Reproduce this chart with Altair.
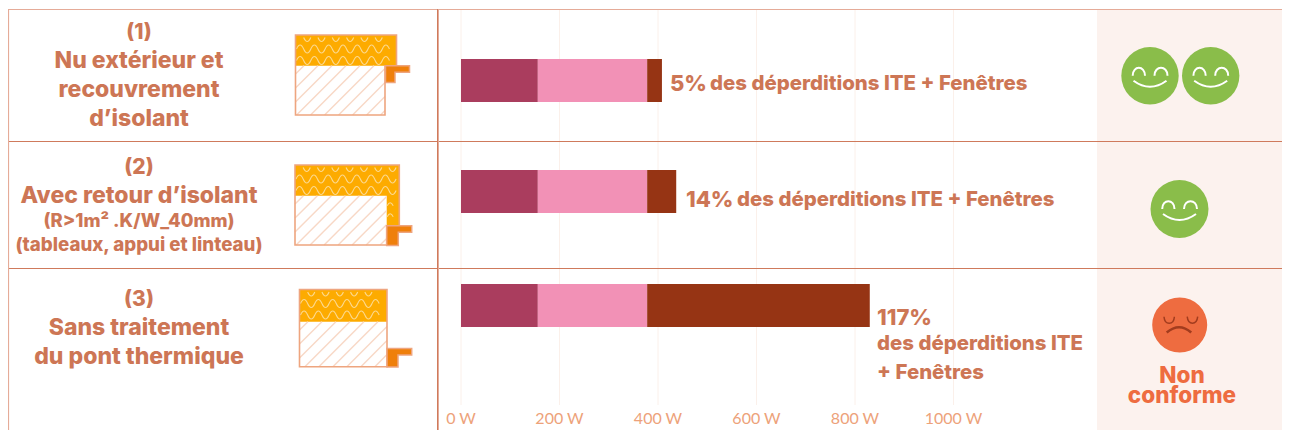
import altair as alt
import pandas as pd

# ---- data ----
rows = ["(1)", "(2)", "(3)"]
segments = ["Segment A", "Segment B", "Ponts thermiques"]
seg_a = [156, 156, 156]
seg_b = [222, 222, 222]
seg_c = [30, 59, 452]
tick_values = [0, 200, 400, 600, 800, 1000]

# ---- layout (page pixels) ----
W, H = 1274, 422
PX = lambda v: v - 8
X0, PX_PER_W = PX(461), 0.4925
bar_y = {"(1)": (59, 102), "(2)": (170, 213), "(3)": (284, 327)}
SEG_COL = ["#aa3d5e", "#f291b6", "#963414"]
TXT = "#cd7655"
FONT = "Inter"

x_scale = alt.Scale(domain=[-X0 / PX_PER_W, (W - X0) / PX_PER_W], range=[0, W], nice=False, zero=False)
layers = []


def vrule(x, y1, y2, col, sw=1.0):
    return alt.Chart().mark_rule(color=col, strokeWidth=sw).encode(
        x=alt.value(PX(x)), y=alt.value(PX(y1)), y2=alt.value(PX(y2)))


def hrule(y, x1, x2, col, sw=1.0):
    return alt.Chart().mark_rule(color=col, strokeWidth=sw).encode(
        y=alt.value(PX(y)), x=alt.value(PX(x1)), x2=alt.value(PX(x2)))


def path(d, fill=None, stroke=None, sw=1.0):
    kw = dict(shape=d, size=4, opacity=1, strokeWidth=sw)
    if fill:
        kw.update(filled=True, fill=fill)
    else:
        kw.update(filled=False, fill="transparent")
    kw["stroke"] = stroke if stroke else "transparent"
    return alt.Chart().mark_point(**kw).encode(x=alt.value(0), y=alt.value(0))


def poly(pts):
    return "M" + " L".join(f"{PX(x):.2f} {PX(y):.2f}" for x, y in pts) + " Z"


def text(s, x, y, size, col=TXT, weight=800, align="center", font=FONT):
    return alt.Chart().mark_text(text=s, fontSize=size, fontWeight=weight, color=col, align=align,
                                 baseline="middle", font=font).encode(x=alt.value(PX(x)), y=alt.value(PX(y) + 1.5))


def hatch(x1, y1, x2, y2, step=14.0):
    # 45 degree lines clipped to the box
    d = []
    c = x1 + y1 + step * 0.6
    while c < x2 + y2:
        ax, ay = max(x1, c - y2), min(y2, c - x1)
        bx, by = min(x2, c - y1), max(y1, c - x2)
        d.append(f"M{PX(ax):.2f} {PX(ay):.2f} L{PX(bx):.2f} {PX(by):.2f}")
        c += step
    return " ".join(d)


def waves(x1, x2, ys, lam=14.3, amp=8.0):
    d = []
    for y in ys:
        n = int((x2 - x1) / (lam / 2))
        s = f"M{PX(x1):.2f} {PX(y):.2f} q{lam/4:.2f} {-amp:.2f} {lam/2:.2f} 0"
        s += f" t{lam/2:.2f} 0" * (n - 1)
        d.append(s)
    return " ".join(d)


def troughs(x1, x2, y, lam=14.3, amp=8.0):
    d = []
    x = x1 + lam / 2
    while x + lam / 2 <= x2:
        d.append(f"M{PX(x):.2f} {PX(y):.2f} q{lam/4:.2f} {amp:.2f} {lam/2:.2f} 0")
        x += lam
    return " ".join(d)


def circle(cx, cy, r, col):
    return alt.Chart().mark_point(shape="circle", size=4 * r * r, filled=True, fill=col, opacity=1, strokeWidth=0).encode(
        x=alt.value(PX(cx)), y=alt.value(PX(cy)))


def smile(cx, cy):
    X, Y = PX(cx), PX(cy)
    d = (f"M{X-17.3:.1f} {Y:.1f} C{X-17.3:.1f} {Y-10.5:.1f} {X-5:.1f} {Y-10.5:.1f} {X-5:.1f} {Y:.1f} "
         f"M{X+4.5:.1f} {Y:.1f} C{X+4.5:.1f} {Y-10.5:.1f} {X+17.5:.1f} {Y-10.5:.1f} {X+17.5:.1f} {Y:.1f} "
         f"M{X-16.5:.1f} {Y+5:.1f} Q{X:.1f} {Y+17:.1f} {X+16.5:.1f} {Y+5:.1f}")
    return path(d, stroke="#ffffff", sw=2)


def sad(cx, cy):
    X, Y = PX(cx), PX(cy)
    d = (f"M{X-15.7:.1f} {Y-8.3:.1f} C{X-15:.1f} {Y+0.5:.1f} {X-6:.1f} {Y+0.5:.1f} {X-5.3:.1f} {Y-8.3:.1f} "
         f"M{X+7.5:.1f} {Y-8.3:.1f} C{X+8.5:.1f} {Y+0.5:.1f} {X+17:.1f} {Y+0.5:.1f} {X+18:.1f} {Y-8.3:.1f}")
    m = f"M{X-13:.1f} {Y+7.5:.1f} Q{X-0.5:.1f} {Y-3:.1f} {X+11.5:.1f} {Y+7.5:.1f}"
    return [path(d, stroke="#a23c1e", sw=1.5), path(m, stroke="#a23c1e", sw=2.6)]


# right panel
layers.append(alt.Chart().mark_rect(color="#fcf2ee").encode(
    x=alt.value(PX(1097)), x2=alt.value(W), y=alt.value(PX(10)), y2=alt.value(H)))

# grid + axis, on the W scale
tick_df = pd.DataFrame({"w": tick_values})
layers.append(alt.Chart(tick_df).mark_rule(color="#fbf0ea", strokeWidth=1).encode(
    x=alt.X("w:Q", scale=x_scale, axis=None), y=alt.value(PX(10)), y2=alt.value(PX(405))))
layers.append(alt.Chart(tick_df).mark_text(fontSize=16, font="Lato", fontWeight=400, color="#eda27a", baseline="middle").encode(
    x=alt.X("w:Q", scale=x_scale, axis=None), y=alt.value(PX(419)), text=alt.Text("label:N")
).transform_calculate(label="datum.w + ' W'"))

# bars
for i, r in enumerate(rows):
    vals = [seg_a[i], seg_b[i], seg_c[i]]
    start = 0
    for s, v, col in zip(segments, vals, SEG_COL):
        df = pd.DataFrame({"row": [r], "seg": [s], "a": [start], "b": [start + v]})
        layers.append(alt.Chart(df).mark_rect(color=col).encode(
            x=alt.X("a:Q", scale=x_scale, axis=None), x2="b:Q",
            y=alt.value(PX(bar_y[r][0])), y2=alt.value(PX(bar_y[r][1]))))
        start += v

# table lines
L1, L2 = "#e5ab98", "#cf7a5c"
XR = W + 8
layers += [hrule(9.5, 8, XR, L1, 1.2), hrule(141.5, 8, XR, L2, 1.2), hrule(268.5, 8, XR, L2, 1.2),
           vrule(8.5, 9, 430, L1, 1.2), vrule(438.5, 9, 430, L1, 1), vrule(437.5, 9, 430, L2, 1)]

# pictograms
OR, OR2, EDGE, WAVE, HAT = "#fdab00", "#ef7f0a", "#eea57f", "#fcd98f", "#f8d8c6"


def picto(top, mid, bottom, xl, xm, xr, leg=None):
    """Insulation block, wall block; `leg` is the lower y of an insulation return on the right."""
    yr = mid if leg is None else leg
    out = [path(poly([(xl, top), (xr, top), (xr, yr), (xm, yr), (xm, mid), (xl, mid)]), fill=OR)]
    rows_y = [top + 14, top + 25.5]
    d = troughs(xl + 1, xr - 1, top + 2.5) + " " + waves(xl + 1, xr - 1, rows_y)
    if leg is not None:
        d += " " + waves(xm + 0.5, xr - 0.5, [mid + 10, mid + 21], lam=12, amp=6)
    out.append(path(d, stroke=WAVE, sw=1.1))
    out.append(path(hatch(xl, mid, xm, bottom), stroke=HAT, sw=1.4))
    out.append(path(poly([(xl, top), (xr, top), (xr, yr), (xm, yr), (xm, bottom), (xl, bottom)]), stroke=EDGE, sw=1.6))
    return out


def frame(xl, xs, xe, ytop, yarm, ybot):
    return path(poly([(xl, ytop), (xe, ytop), (xe, yarm), (xs, yarm), (xs, ybot), (xl, ybot)]),
                fill=OR2, stroke=EDGE, sw=1.5)


layers += picto(35, 65.7, 115, 295.5, 385, 396.5)
layers.append(frame(385.5, 395, 409.5, 65.7, 72.3, 82.5))
layers += picto(165, 195.7, 245, 295, 386.7, 399.3, leg=226)
layers.append(frame(386.7, 398.3, 411.7, 225.7, 232.3, 245.5))
layers += picto(289.5, 321.7, 366.7, 299.5, 387, 387)
layers.append(frame(387, 398, 411.7, 348.5, 355, 367))

# left texts
CX = 139
S = 23
layers += [text("(1)", CX, 31, 21), text("Nu extérieur et", CX, 59, S), text("recouvrement", CX, 88, S),
           text("d’isolant", CX, 117, S),
           text("(2)", CX, 166, 21), text("Avec retour d’isolant", CX, 194, S),
           text("(R>1m² .K/W_40mm)", CX, 219, 18.4), text("(tableaux, appui et linteau)", CX, 243, 18.7),
           text("(3)", CX, 298, 21), text("Sans traitement", CX, 326, S), text("du pont thermique", CX, 355, S)]

# bar labels
L = 20.4
layers += [text("5%", 670, 82, 22, align="left"), text("des déperditions ITE + Fenêtres", 710, 82.5, L, align="left"),
           text("14%", 686, 198, 22, align="left"), text("des déperditions ITE + Fenêtres", 737, 198.5, L, align="left"),
           text("117%", 877, 316, 22, align="left"), text("des déperditions ITE", 877, 342, L, align="left"),
           text("+ Fenêtres", 877, 371, L, align="left")]

# verdict
layers += [circle(1150, 75.7, 28.7, "#8abd4a"), smile(1150, 75.7), circle(1210.7, 75.7, 28.7, "#8abd4a"), smile(1210.7, 75.7),
           circle(1179.5, 209, 29, "#8abd4a"), smile(1179.5, 209), circle(1179.7, 325, 27.5, "#ee6c40")]
layers += sad(1179.7, 325)
layers += [text("Non", 1182, 374.5, 22.5, col="#ee6c40"), text("conforme", 1182, 394, 22.5, col="#ee6c40")]

chart = alt.layer(*layers).properties(
    width=W, height=H, padding=0, autosize=alt.AutoSizeParams(type="none"), background="#ffffff"
).configure_view(strokeWidth=0)

chart.save("out.html", embed_options={"renderer": "svg", "actions": False})
